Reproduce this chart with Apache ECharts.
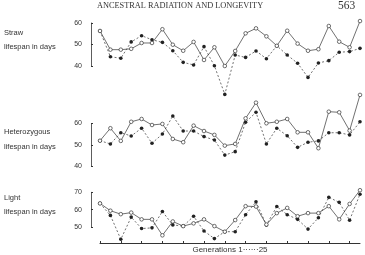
<!DOCTYPE html>
<html>
<head>
<meta charset="utf-8">
<script src="https://cdn.jsdelivr.net/npm/echarts@6/dist/echarts.min.js"></script>
<style>
html, body { margin: 0; padding: 0; background: #fff; }
#chart { width: 365px; height: 255px; }
</style>
</head>
<body>
<div id="chart"></div>
<script>
// generations (x categories)
const generations = ["0", "1", "2", "3", "4", "5", "6", "7", "8", "9", "10", "11", "12",
  "13", "14", "15", "16", "17", "18", "19", "20", "21", "22", "23", "24", "25"];

// Straw
const strawOpen = [56.3, 47.6, 47.6, 48.0, 50.7, 50.7, 57.1, 49.9, 47.1, 51.2, 42.8, 48.7, 40.0,
  47.0, 55.2, 57.5, 53.8, 49.4, 56.4, 50.4, 47.1, 47.8, 58.6, 51.3, 48.7, 60.9];
const strawFilled = [56.3, 44.3, 43.6, 51.2, 54.1, 52.2, 51.0, 47.1, 41.7, 40.5, 49.0, 40.1, 26.8,
  45.1, 44.0, 47.0, 43.4, 49.4, 45.1, 41.3, 34.7, 41.4, 42.5, 46.4, 46.7, 48.2];

// Heterozygous
const hetOpen = [52.0, 57.8, 51.9, 60.8, 62.1, 59.3, 59.8, 52.8, 51.3, 59.0, 56.5, 54.7, 49.7,
  50.5, 62.4, 69.7, 60.1, 60.8, 62.1, 55.9, 55.9, 48.5, 65.5, 65.2, 56.7, 73.3];
const hetFilled = [52.0, 50.5, 55.7, 54.2, 57.8, 50.8, 55.1, 63.5, 56.5, 56.5, 53.9, 52.3, 45.3,
  46.9, 60.6, 65.2, 50.5, 57.8, 54.3, 48.9, 51.3, 51.9, 55.7, 55.7, 54.7, 60.8];

// Light
const lightOpen = [63.6, 59.4, 57.4, 58.3, 54.4, 54.4, 45.2, 53.2, 50.5, 52.1, 54.4, 50.5, 47.3,
  54.0, 62.0, 61.8, 51.4, 58.0, 61.0, 56.2, 58.0, 58.0, 62.0, 54.4, 63.3, 71.2];
const lightFilled = [63.6, 56.7, 42.9, 55.7, 49.1, 49.5, 58.9, 51.2, 50.5, 56.2, 47.7, 43.3, 47.3,
  47.3, 57.1, 64.5, 51.2, 61.8, 57.1, 54.4, 48.8, 55.3, 67.1, 64.2, 53.9, 68.9];

// y axis ranges (min, max)
const yRanges = [[40, 60], [40, 60], [50, 70]];
const panelNames = ["Straw", "Heterozygous", "Light"];

const ink = "#333";
const chart = echarts.init(document.getElementById("chart"));

const grids = [
  { left: 100, right: 5, top: 23, height: 43 },
  { left: 100, right: 5, top: 123.5, height: 43 },
  { left: 100, right: 5, top: 192.3, height: 37.7 }
];

const xAxes = grids.map(function (g, i) {
  const last = i === 2;
  return {
    type: "category",
    gridIndex: i,
    data: generations,
    boundaryGap: false,
    show: last,
    offset: 16,
    axisLine: { show: last, lineStyle: { color: ink, width: 1 } },
    axisTick: { show: last, inside: true, length: 2, lineStyle: { color: ink } },
    axisLabel: { show: false },
    splitLine: { show: false },
    name: last ? "Generations 1······25" : "",
    nameLocation: "middle",
    nameGap: 3,
    nameTextStyle: {
      fontFamily: "Liberation Sans", fontSize: 8, color: ink,
      backgroundColor: "#fff", padding: [0, 1]
    }
  };
});

const yAxes = yRanges.map(function (r, i) {
  return {
    type: "value",
    gridIndex: i,
    min: r[0],
    max: r[1],
    interval: 10,
    offset: 9,
    axisLine: { show: true, lineStyle: { color: ink, width: 0.8 } },
    axisTick: { show: true, inside: true, length: 2, lineStyle: { color: ink } },
    axisLabel: { fontFamily: "Liberation Sans", fontSize: 7, color: ink, margin: 9 },
    splitLine: { show: false }
  };
});

function openLine(data, i) {
  return {
    type: "line", xAxisIndex: i, yAxisIndex: i, data: data, clip: false,
    symbol: "circle", symbolSize: 3.6, z: 3,
    itemStyle: { color: "#fff", borderColor: ink, borderWidth: 0.7 },
    lineStyle: { color: ink, width: 0.7 },
    animation: false
  };
}
function filledLine(data, i) {
  return {
    type: "line", xAxisIndex: i, yAxisIndex: i, data: data, clip: false,
    symbol: "circle", symbolSize: 3.6, z: 2,
    itemStyle: { color: "#222" },
    lineStyle: { color: ink, width: 0.7, type: [2, 2] },
    animation: false
  };
}

const labelStyle = { fontFamily: "Liberation Sans", fontSize: 7.5, fill: ink };
const sideLabels = [
  [33, 47], [132, 147], [198, 212]
];
const graphics = [
  {
    type: "text", left: 97, top: 2,
    style: { text: "ANCESTRAL RADIATION AND LONGEVITY", fontFamily: "Liberation Serif", fontSize: 8.3, fill: ink }
  },
  {
    type: "text", left: 338, top: 0,
    style: { text: "563", fontFamily: "Liberation Serif", fontSize: 11.5, fill: ink }
  }
];
panelNames.forEach(function (n, i) {
  graphics.push({ type: "text", left: 4, top: sideLabels[i][0] - 4, style: Object.assign({ text: n }, labelStyle) });
  graphics.push({ type: "text", left: 4, top: sideLabels[i][1] - 4, style: Object.assign({ text: "lifespan in days" }, labelStyle) });
});

chart.setOption({
  backgroundColor: "#fff",
  animation: false,
  grid: grids,
  xAxis: xAxes,
  yAxis: yAxes,
  graphic: graphics,
  series: [
    filledLine(strawFilled, 0), openLine(strawOpen, 0),
    filledLine(hetFilled, 1), openLine(hetOpen, 1),
    filledLine(lightFilled, 2), openLine(lightOpen, 2)
  ]
});
</script>
</body>
</html>
